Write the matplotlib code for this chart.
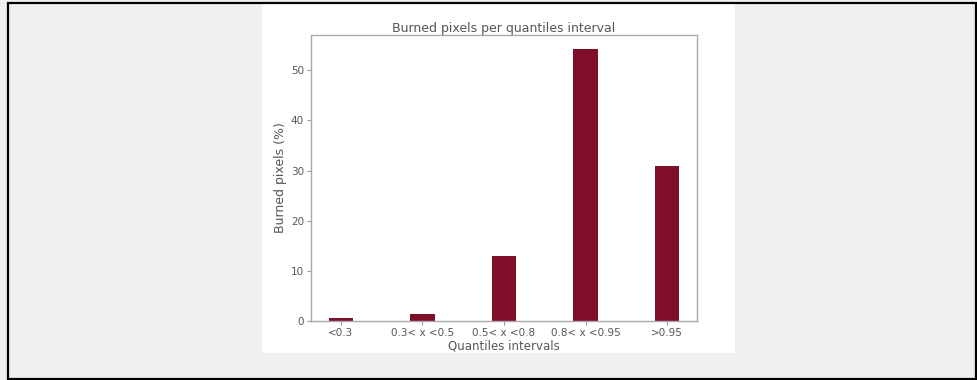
import matplotlib
matplotlib.use("Agg")
import matplotlib.pyplot as plt
from matplotlib.patches import Rectangle

# data
intervals = ['<0.3', '0.3< x <0.5', '0.5< x <0.8', '0.8< x <0.95', '>0.95']
burned_pct = [0.5, 1.3, 13.0, 54.3, 30.9]

W, H = 977, 380
fig = plt.figure(figsize=(W / 100, H / 100), dpi=100, facecolor='#f0f0f0')

# white panel holding the chart (screenshot look)
fig.patches.append(Rectangle((262 / W, 1 - 353 / H), 473 / W, 350 / H,
                             transform=fig.transFigure, facecolor='white',
                             edgecolor='none', zorder=-5))
# black frame around everything
fig.patches.append(Rectangle((8 / W, 1 - 378.5 / H), 968 / W, 375.5 / H,
                             transform=fig.transFigure, facecolor='none',
                             edgecolor='black', linewidth=1.6, zorder=5))

ax = fig.add_axes([311 / W, 1 - 321 / H, 386 / W, 286 / H])
ax.bar(range(len(intervals)), burned_pct, width=0.3, color='#7f0e2b')

txt = '#555555'
ax.set_xticks(range(len(intervals)))
ax.set_yticks([0, 10, 20, 30, 40, 50])
ax.set_xticklabels(intervals)
ax.tick_params(color='#999999', length=3, width=0.8, pad=2,
               labelsize=7.5, labelcolor=txt)
ax.set_title('Burned pixels per quantiles interval', fontsize=9, color=txt, pad=2)
ax.set_xlabel('Quantiles intervals', fontsize=8.5, color=txt, labelpad=1)
ax.set_ylabel('Burned pixels (%)', fontsize=9, color=txt, labelpad=3)
for s in ax.spines.values():
    s.set_color('#aaaaaa')
    s.set_linewidth(1.0)

fig.savefig('out.png', dpi=100, facecolor=fig.get_facecolor())
